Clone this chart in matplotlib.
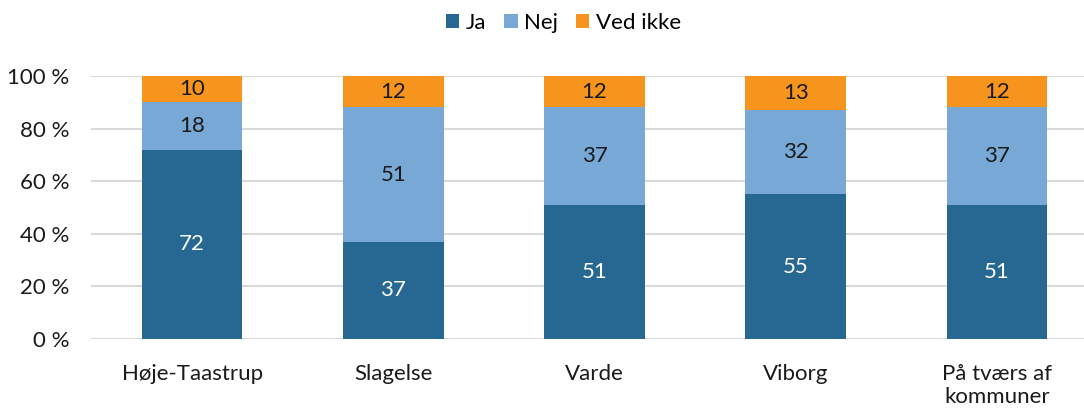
import matplotlib

matplotlib.use("Agg")
import matplotlib.pyplot as plt
import numpy as np

categories = ["Høje-Taastrup", "Slagelse", "Varde", "Viborg", "På tværs af\nkommuner"]
ja = [72, 37, 51, 55, 51]
nej = [18, 51, 37, 32, 37]
ved_ikke = [10, 12, 12, 13, 12]
yticks = [0, 20, 40, 60, 80, 100]

plt.rcParams["font.family"] = ["Lato", "DejaVu Sans"]

series = [
    ("Ja", ja, "#276893", "white"),
    ("Nej", nej, "#77A8D6", "#1a1a1a"),
    ("Ved ikke", ved_ikke, "#F7941E", "#1a1a1a"),
]

FS = 16

fig = plt.figure(figsize=(10.84, 4.08), dpi=100)
ax = fig.add_axes([0.0844, 0.169, 0.928, 0.645])

x = np.arange(len(categories))
bottom = np.zeros(len(categories))
handles = []
for name, vals, color, tcol in series:
    vals = np.array(vals, dtype=float)
    b = ax.bar(x, vals, 0.5, bottom=bottom, color=color, label=name, zorder=3)
    handles.append(b)
    for xi, v, b0 in zip(x, vals, bottom):
        ax.text(xi, b0 + v / 2, f"{int(v)}", ha="center", va="center",
                color=tcol, fontsize=FS, zorder=4)
    bottom += vals

ax.set_xlim(-0.5, len(categories) - 0.5)
ax.set_ylim(0, 100)
ax.set_yticks(yticks)
ax.set_yticklabels([f"{t} %" for t in yticks], fontsize=FS, color="#1a1a1a")
ax.set_xticks(x)
ax.set_xticklabels(categories, fontsize=FS, color="#1a1a1a", linespacing=1.2)
ax.tick_params(axis="y", length=0, pad=16)
ax.tick_params(axis="x", length=0, pad=18)
ax.yaxis.grid(True, color="#D9D9D9", lw=1.5, zorder=0)
ax.set_axisbelow(True)
for s in ax.spines.values():
    s.set_visible(False)

fig.legend(handles=handles, labels=[s[0] for s in series], loc="center",
           bbox_to_anchor=(0.52, 0.944), ncol=3, frameon=False, fontsize=FS,
           handlelength=0.6, handleheight=0.6, handletextpad=0.3,
           columnspacing=0.8)

fig.savefig("out.png", dpi=100)
